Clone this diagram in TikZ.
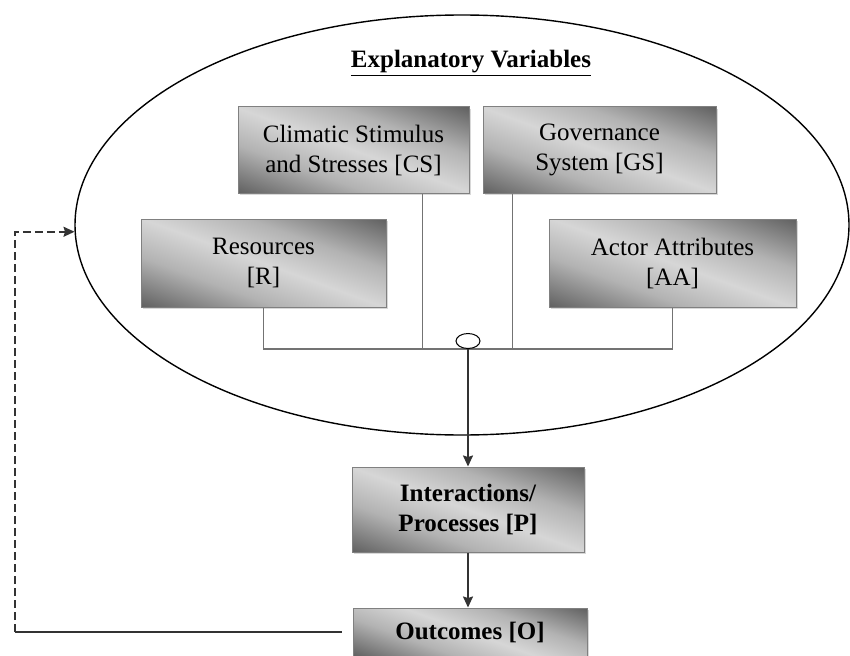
\documentclass[tikz,border=0pt]{standalone}
\usepackage{fontspec}
\setmainfont{Liberation Serif}
\usetikzlibrary{shapes.geometric,shadows,arrows.meta}
\pgfdeclareverticalshading{boxshade}{100bp}{color(0bp)=(black!72); color(18bp)=(black!62); color(36bp)=(black!30); color(50bp)=(black!16); color(64bp)=(black!30); color(82bp)=(black!62); color(100bp)=(black!72)}

\begin{document}
\begin{tikzpicture}[>={Stealth[length=11pt,width=10pt,inset=1.5pt]},x=1pt,y=-1pt,
	every node/.style={font=\fontsize{25}{30}\selectfont},
	varbox/.style={draw=black!50,line width=1pt,shading=boxshade,shading angle=-20,align=center,inner sep=0pt,drop shadow={shadow xshift=2pt,shadow yshift=-2pt,fill=black!30,opacity=.5}},
	boldbox/.style={varbox,font=\fontsize{25}{30}\selectfont\bfseries},
	busline/.style={draw=black!55,line width=1.3pt},
	flow/.style={->,draw=black!80,line width=1.6pt}]
		\useasboundingbox (0,0) rectangle (850,655);
		\node[ellipse,draw,line width=1.4pt,minimum width=774pt,minimum height=420pt,inner sep=0pt] (vars) at (462,225) {};
		\node (title) at (471,63) {\textbf{\underline{Explanatory Variables}}};
		\node[varbox,minimum width=231pt,minimum height=86pt] (CS) at (353.5,150) {Climatic Stimulus\\and Stresses [CS]};
		\node[varbox,minimum width=233pt,minimum height=86pt] (GS) at (599.5,150) {Governance\\System [GS]};
		\node[varbox,minimum width=245pt,minimum height=88pt] (R) at (263.5,263) {Resources\\{[R]}};
		\node[varbox,minimum width=247pt,minimum height=88pt] (AA) at (672.5,263) {Actor Attributes\\{[AA]}};
		\node[boldbox,minimum width=232pt,minimum height=85pt] (P) at (468,509.5) {Interactions/\\Processes [P]};
		\node[boldbox,minimum width=234pt,minimum height=48pt] (O) at (470,632) {Outcomes [O]};
		\coordinate (bus) at (468,349);
		\coordinate (loop) at (15,632);
		\draw[busline] (R.south) |- (bus) -| (AA.south);
		\draw[busline] ([xshift=-47pt]CS.south east) -- ([xshift=-47pt]CS.south east |- bus);
		\draw[busline] ([xshift=30pt]GS.south west) -- ([xshift=30pt]GS.south west |- bus);
		\node[ellipse,draw,line width=1pt,fill=white,minimum width=24pt,minimum height=15pt,inner sep=0pt,anchor=south] (hub) at (bus) {};
		\draw[flow] (hub.south) -- (P.north);
		\draw[flow] (P.south) -- (P.south |- O.north);
		\draw[draw=black!80,line width=1.6pt,shorten <=11pt] (O.west) -- (loop);
		\draw[flow,dash pattern=on 8pt off 4pt] (loop) |- (vars.181);
\end{tikzpicture}
\end{document}
